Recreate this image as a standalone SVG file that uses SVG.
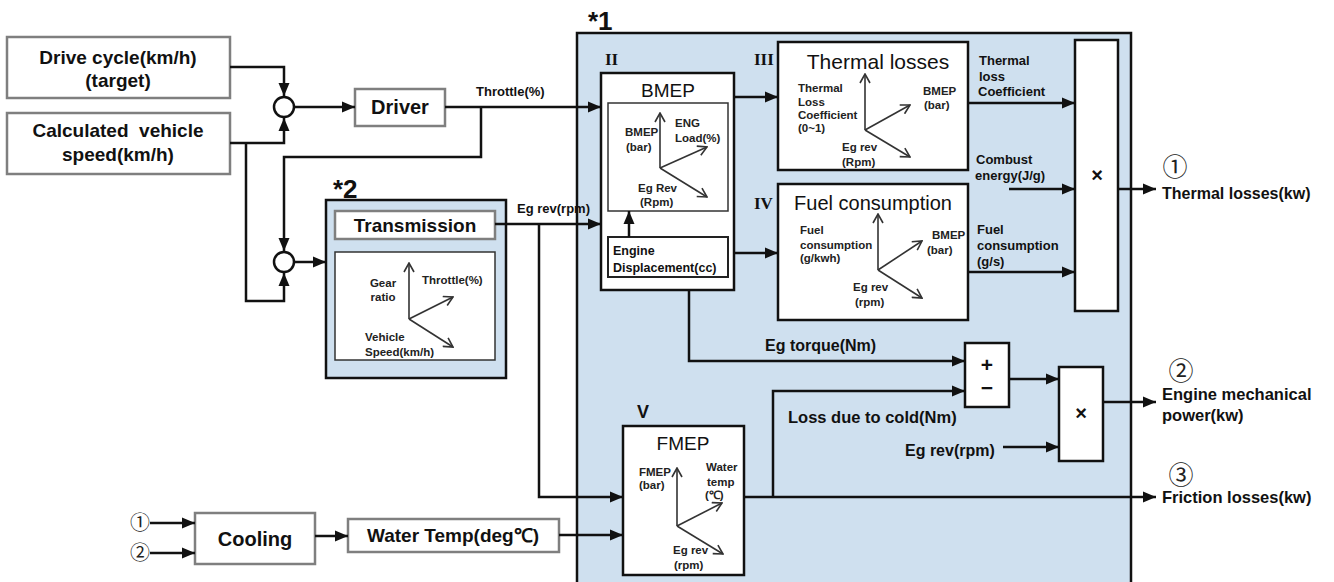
<svg xmlns="http://www.w3.org/2000/svg" width="1334" height="582" viewBox="0 0 1334 582">
<defs>
<style>
.t{font-family:"Liberation Sans",Arial,sans-serif;font-weight:bold;fill:#111}
.n{font-family:"Liberation Sans",Arial,sans-serif;fill:#111}
.s{font-family:"Liberation Sans",Arial,sans-serif;font-weight:bold;font-size:11.5px;fill:#222}
.r{font-family:"Liberation Serif","Times New Roman",serif;font-weight:bold;fill:#111}
.c{font-family:"Noto Sans CJK JP","DejaVu Sans",sans-serif;fill:#222}
.gb{fill:#fff;stroke:#7f7f7f;stroke-width:2.5}
.bb{fill:#fff;stroke:#111;stroke-width:2.5}
.ib{fill:#fff;stroke:#333;stroke-width:1.5}
.con{fill:none;stroke:#111;stroke-width:2.5;marker-end:url(#ah)}
.ax{fill:none;stroke:#333;stroke-width:1.6;marker-end:url(#oa)}
</style>
<marker id="ah" markerUnits="userSpaceOnUse" markerWidth="14" markerHeight="14" viewBox="0 0 14 14" refX="13" refY="7" orient="auto">
<path d="M0,1.5 L13,7 L0,12.5 Z" fill="#111"/>
</marker>
<marker id="oa" markerUnits="userSpaceOnUse" markerWidth="12" markerHeight="12" viewBox="0 0 12 12" refX="11" refY="6" orient="auto">
<path d="M2,1 L11,6 L2,11" fill="none" stroke="#333" stroke-width="1.6"/>
</marker>
</defs>
<rect width="1334" height="582" fill="#fff"/>

<g id="panel1">
<rect x="577" y="33" width="554" height="560" fill="#cfe0ef" stroke="#111" stroke-width="2.5"/>
<text class="t" x="588" y="30" font-size="26">*1</text>
</g>

<g id="drive-cycle">
<rect class="gb" x="7" y="37" width="223" height="61"/>
<text class="t" x="118" y="64" font-size="19" text-anchor="middle">Drive cycle(km/h)</text>
<text class="t" x="118" y="87" font-size="19" text-anchor="middle">(target)</text>
</g>
<g id="calc-speed">
<rect class="gb" x="7" y="113" width="223" height="61"/>
<text class="t" x="118" y="137" font-size="19" text-anchor="middle" xml:space="preserve">Calculated  vehicle</text>
<text class="t" x="118" y="161" font-size="19" text-anchor="middle">speed(km/h)</text>
</g>
<g id="sum1"><circle cx="284" cy="107" r="10" fill="#fff" stroke="#111" stroke-width="2.5"/></g>
<g id="sum2"><circle cx="284" cy="262" r="10" fill="#fff" stroke="#111" stroke-width="2.5"/></g>
<g id="driver">
<rect class="gb" x="355" y="89" width="90" height="37"/>
<text class="t" x="400" y="114" font-size="20" text-anchor="middle">Driver</text>
</g>

<g id="transmission">
<rect x="326" y="200" width="180" height="178" fill="#cfe0ef" stroke="#111" stroke-width="2.5"/>
<text class="t" x="333" y="198" font-size="26">*2</text>
<rect class="gb" x="335" y="211" width="160" height="28"/>
<text class="t" x="415" y="232" font-size="19" text-anchor="middle">Transmission</text>
<rect class="ib" x="335" y="252" width="160" height="108"/>
<path class="ax" d="M409,319 V263"/>
<path class="ax" d="M409,319 L453,297"/>
<path class="ax" d="M409,319 L453,347"/>
<text class="s" x="383" y="287" text-anchor="middle">Gear</text>
<text class="s" x="383" y="301" text-anchor="middle">ratio</text>
<text class="s" x="422" y="284">Throttle(%)</text>
<text class="s" x="365" y="341">Vehicle</text>
<text class="s" x="365" y="356">Speed(km/h)</text>
</g>

<g id="bmep">
<text class="r" x="605" y="65" font-size="17">II</text>
<rect class="bb" x="601" y="73" width="133" height="217"/>
<text class="n" x="668" y="97" font-size="19" text-anchor="middle">BMEP</text>
<rect class="ib" x="608" y="103" width="120" height="108"/>
<path class="ax" d="M660,168 V113"/>
<path class="ax" d="M660,168 L707,147"/>
<path class="ax" d="M660,168 L707,197"/>
<text class="s" x="625" y="136">BMEP</text>
<text class="s" x="626" y="151">(bar)</text>
<text class="s" x="675" y="127">ENG</text>
<text class="s" x="675" y="142">Load(%)</text>
<text class="s" x="638" y="192">Eg Rev</text>
<text class="s" x="640" y="206">(Rpm)</text>
<rect x="608" y="237" width="120" height="40" fill="#fff" stroke="#222" stroke-width="2"/>
<text class="t" x="613" y="254.5" font-size="12.5">Engine</text>
<text class="t" x="613" y="271.5" font-size="12.5">Displacement(cc)</text>
</g>

<g id="thermal">
<text class="r" x="754" y="65" font-size="17">III</text>
<rect class="bb" x="778" y="42" width="190" height="128"/>
<text class="n" x="878" y="69" font-size="21" text-anchor="middle">Thermal losses</text>
<path class="ax" d="M865,130 V74"/>
<path class="ax" d="M865,130 L910,105"/>
<path class="ax" d="M865,130 L910,157"/>
<text class="s" x="798" y="92" font-size="11">Thermal</text>
<text class="s" x="798" y="106" font-size="11">Loss</text>
<text class="s" x="798" y="119" font-size="11">Coefficient</text>
<text class="s" x="798" y="132" font-size="11">(0~1)</text>
<text class="s" x="923" y="95">BMEP</text>
<text class="s" x="924" y="109">(bar)</text>
<text class="s" x="842" y="151">Eg rev</text>
<text class="s" x="842" y="166">(Rpm)</text>
</g>

<g id="fuel">
<text class="r" x="754" y="209" font-size="17">IV</text>
<rect class="bb" x="778" y="184" width="190" height="136"/>
<text class="n" x="873" y="210" font-size="20" text-anchor="middle">Fuel consumption</text>
<path class="ax" d="M878,270 V214"/>
<path class="ax" d="M878,270 L922,241"/>
<path class="ax" d="M878,270 L922,298"/>
<text class="s" x="800" y="234" font-size="11">Fuel</text>
<text class="s" x="800" y="249" font-size="11">consumption</text>
<text class="s" x="800" y="262" font-size="11">(g/kwh)</text>
<text class="s" x="932" y="239">BMEP</text>
<text class="s" x="927" y="254">(bar)</text>
<text class="s" x="853" y="291">Eg rev</text>
<text class="s" x="855" y="306">(rpm)</text>
</g>

<g id="mult1">
<rect class="bb" x="1075" y="40" width="43" height="271"/>
<text class="t" x="1097" y="182" font-size="20" text-anchor="middle">×</text>
</g>

<g id="plusminus">
<rect class="bb" x="965" y="343" width="44" height="64"/>
<text class="t" x="987" y="372" font-size="21" text-anchor="middle">+</text>
<text class="t" x="987" y="395" font-size="21" text-anchor="middle">−</text>
</g>

<g id="mult2">
<rect class="bb" x="1059" y="367" width="44" height="94"/>
<text class="t" x="1081" y="420" font-size="20" text-anchor="middle">×</text>
</g>

<g id="fmep">
<text class="t" x="637" y="418" font-size="18">V</text>
<rect class="bb" x="623" y="426" width="121" height="149"/>
<text class="n" x="683" y="450" font-size="19" text-anchor="middle">FMEP</text>
<path class="ax" d="M677,526 V468"/>
<path class="ax" d="M677,526 L722,503"/>
<path class="ax" d="M677,526 L723,554"/>
<text class="s" x="639" y="476">FMEP</text>
<text class="s" x="639" y="489">(bar)</text>
<text class="s" x="706" y="471">Water</text>
<text class="s" x="707" y="486">temp</text>
<text class="s" x="705" y="499">(℃)</text>
<text class="s" x="673" y="554">Eg rev</text>
<text class="s" x="674" y="569">(rpm)</text>
</g>

<g id="cooling">
<rect class="gb" x="195" y="513" width="120" height="51"/>
<text class="t" x="255" y="546" font-size="20" text-anchor="middle">Cooling</text>
</g>
<g id="water-temp">
<rect class="gb" x="348" y="519" width="211" height="33"/>
<text class="t" x="453" y="542" font-size="19" text-anchor="middle">Water Temp(deg℃)</text>
</g>

<g id="in1"><text class="c" x="140" y="530" font-size="20" text-anchor="middle">①</text></g>
<g id="in2"><text class="c" x="140" y="560" font-size="20" text-anchor="middle">②</text></g>

<g id="out1">
<text class="c" x="1175" y="176" font-size="25" text-anchor="middle">①</text>
<text class="t" x="1162" y="199" font-size="16">Thermal losses(kw)</text>
</g>
<g id="out2">
<text class="c" x="1181" y="380" font-size="25" text-anchor="middle">②</text>
<text class="t" x="1162" y="400" font-size="16.5">Engine mechanical</text>
<text class="t" x="1162" y="421" font-size="16.5">power(kw)</text>
</g>
<g id="out3">
<text class="c" x="1181" y="484" font-size="25" text-anchor="middle">③</text>
<text class="t" x="1162" y="503" font-size="16.5">Friction losses(kw)</text>
</g>

<g id="connectors">
<path class="con" d="M230,67 H284 V96"/>
<path class="con" d="M230,143 H284 V118"/>
<path class="con" d="M294,107 H355"/>
<path class="con" d="M445,107 H601"/>
<path class="con" d="M481,107 V157 H284 V251"/>
<path class="con" d="M246,143 V301 H284 V273"/>
<path class="con" d="M294,262 H326"/>
<path class="con" d="M495,224 H601"/>
<path class="con" d="M539,224 V497 H623"/>
<path class="con" d="M559,535 H623"/>
<path class="con" d="M150,523 H195"/>
<path class="con" d="M150,553 H195"/>
<path class="con" d="M315,536 H348"/>
<path class="con" d="M629,237 V211"/>
<path class="con" d="M734,97 H778"/>
<path class="con" d="M734,253 H778"/>
<path class="con" d="M968,103 H1075"/>
<path class="con" d="M1009,189 H1075"/>
<path class="con" d="M968,272 H1075"/>
<path class="con" d="M1118,189 H1156"/>
<path class="con" d="M689,290 V361 H965"/>
<path class="con" d="M773,497 V391 H965"/>
<path class="con" d="M1009,379 H1059"/>
<path class="con" d="M1003,447 H1059"/>
<path class="con" d="M1103,402 H1156"/>
<path class="con" d="M744,497 H1156"/>
<text class="t" x="476" y="95.5" font-size="13">Throttle(%)</text>
<text class="t" x="517" y="212.5" font-size="13">Eg rev(rpm)</text>
<text class="t" x="979" y="64.5" font-size="13">Thermal</text>
<text class="t" x="979" y="80.5" font-size="13">loss</text>
<text class="t" x="978" y="95.5" font-size="13">Coefficient</text>
<text class="t" x="976" y="163.5" font-size="13">Combust</text>
<text class="t" x="975" y="179.5" font-size="13">energy(J/g)</text>
<text class="t" x="977" y="233.5" font-size="13">Fuel</text>
<text class="t" x="977" y="249.5" font-size="13">consumption</text>
<text class="t" x="977" y="265.5" font-size="13">(g/s)</text>
<text class="t" x="765" y="351" font-size="16">Eg torque(Nm)</text>
<text class="t" x="788" y="423" font-size="16.5">Loss due to cold(Nm)</text>
<text class="t" x="905" y="456" font-size="16">Eg rev(rpm)</text>
</g>
</svg>
